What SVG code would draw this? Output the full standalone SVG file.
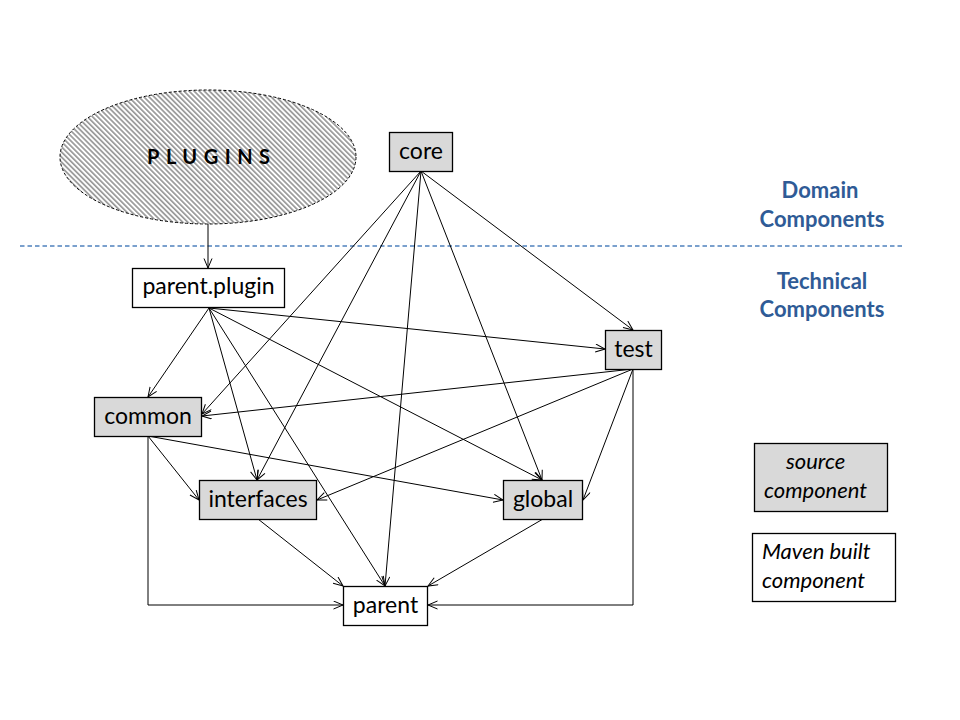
<svg xmlns="http://www.w3.org/2000/svg" width="960" height="720" viewBox="0 0 960 720">
<defs>
<pattern id="hatch" patternUnits="userSpaceOnUse" width="3.6" height="3.6" patternTransform="rotate(-45)">
<rect width="3.6" height="3.6" fill="#ffffff"/>
<rect width="1.7" height="3.6" fill="#999999"/>
</pattern>
<marker id="arr" markerUnits="userSpaceOnUse" markerWidth="12" markerHeight="10" refX="10" refY="4.5" orient="auto">
<path d="M0.5,0.5 L10,4.5 L0.5,8.5" fill="none" stroke="#000" stroke-width="1"/>
</marker>
</defs>
<style>
.box{stroke:#000;stroke-width:1.3}
.src{fill:#d9d9d9}
.mvn{fill:#ffffff}
.lbl{font-family:Lato,"Noto Sans",sans-serif;font-size:23px;fill:#000;text-anchor:middle}
.hdr{font-family:Lato,"Noto Sans",sans-serif;font-size:22px;font-weight:bold;fill:#2f5b96;text-anchor:middle}
.leg{font-family:Lato,"Noto Sans",sans-serif;font-size:22px;font-style:italic;fill:#000}
.edge{fill:none;stroke:#000;stroke-width:1;marker-end:url(#arr)}
</style>
<rect width="960" height="720" fill="#ffffff"/>

<line x1="20" y1="246" x2="905" y2="246" stroke="#4f81bd" stroke-width="1.3" stroke-dasharray="4.5,3"/>

<g id="headings">
<text class="hdr" x="820" y="198">Domain</text>
<text class="hdr" x="822" y="227">Components</text>
<text class="hdr" x="822" y="289">Technical</text>
<text class="hdr" x="822" y="317">Components</text>
</g>

<g id="connectors">
<line class="edge" x1="208" y1="224" x2="208" y2="268"/>
<line class="edge" x1="209" y1="308" x2="148" y2="397"/>
<line class="edge" x1="209" y1="308" x2="257" y2="480"/>
<line class="edge" x1="209" y1="308" x2="385" y2="586"/>
<line class="edge" x1="209" y1="308" x2="542" y2="480"/>
<line class="edge" x1="209" y1="308" x2="605" y2="349"/>
<line class="edge" x1="421" y1="171" x2="202" y2="414"/>
<line class="edge" x1="421" y1="171" x2="257" y2="480"/>
<line class="edge" x1="421" y1="171" x2="385" y2="586"/>
<line class="edge" x1="421" y1="171" x2="542" y2="480"/>
<line class="edge" x1="421" y1="171" x2="633" y2="330"/>
<line class="edge" x1="633" y1="369" x2="202" y2="416"/>
<line class="edge" x1="633" y1="369" x2="317" y2="500"/>
<line class="edge" x1="633" y1="369" x2="583" y2="500"/>
<polyline class="edge" points="633,369 633,605 428,605"/>
<line class="edge" x1="148" y1="436" x2="199" y2="500"/>
<line class="edge" x1="148" y1="436" x2="503" y2="500"/>
<polyline class="edge" points="148,436 148,605 343,605"/>
<line class="edge" x1="258" y1="519" x2="343" y2="586"/>
<line class="edge" x1="543" y1="519" x2="428" y2="586"/>
</g>

<g id="plugins">
<ellipse cx="208" cy="157" rx="148" ry="67" fill="url(#hatch)" stroke="#000" stroke-width="1" stroke-dasharray="3,2"/>
<text x="147" y="164" font-family="Lato,'Noto Sans',sans-serif" font-size="20" font-weight="bold" letter-spacing="6.5" fill="#000">PLUGINS</text>
</g>

<g id="core">
<rect class="box src" x="389.5" y="132.5" width="63" height="39"/>
<text class="lbl" x="421" y="159">core</text>
</g>

<g id="parent-plugin">
<rect class="box mvn" x="132.5" y="268.5" width="152" height="39"/>
<text class="lbl" x="208.5" y="294">parent.plugin</text>
</g>

<g id="test">
<rect class="box src" x="605.5" y="330.5" width="56" height="39"/>
<text class="lbl" x="633.5" y="357">test</text>
</g>

<g id="common">
<rect class="box src" x="94.5" y="397.5" width="107" height="39"/>
<text class="lbl" x="148" y="424">common</text>
</g>

<g id="interfaces">
<rect class="box src" x="199.5" y="480.5" width="117" height="39"/>
<text class="lbl" x="258" y="507">interfaces</text>
</g>

<g id="global">
<rect class="box src" x="503.5" y="480.5" width="79" height="39"/>
<text class="lbl" x="543" y="507">global</text>
</g>

<g id="parent">
<rect class="box mvn" x="343.5" y="586.5" width="84" height="39"/>
<text class="lbl" x="385.5" y="613">parent</text>
</g>

<g id="legend-source">
<rect class="box src" x="754.5" y="443.5" width="133" height="68"/>
<text class="leg" x="786" y="469">source</text>
<text class="leg" x="764" y="498">component</text>
</g>

<g id="legend-maven">
<rect class="box mvn" x="752.5" y="533.5" width="143" height="68"/>
<text class="leg" x="762" y="559">Maven built</text>
<text class="leg" x="762" y="588">component</text>
</g>
</svg>
